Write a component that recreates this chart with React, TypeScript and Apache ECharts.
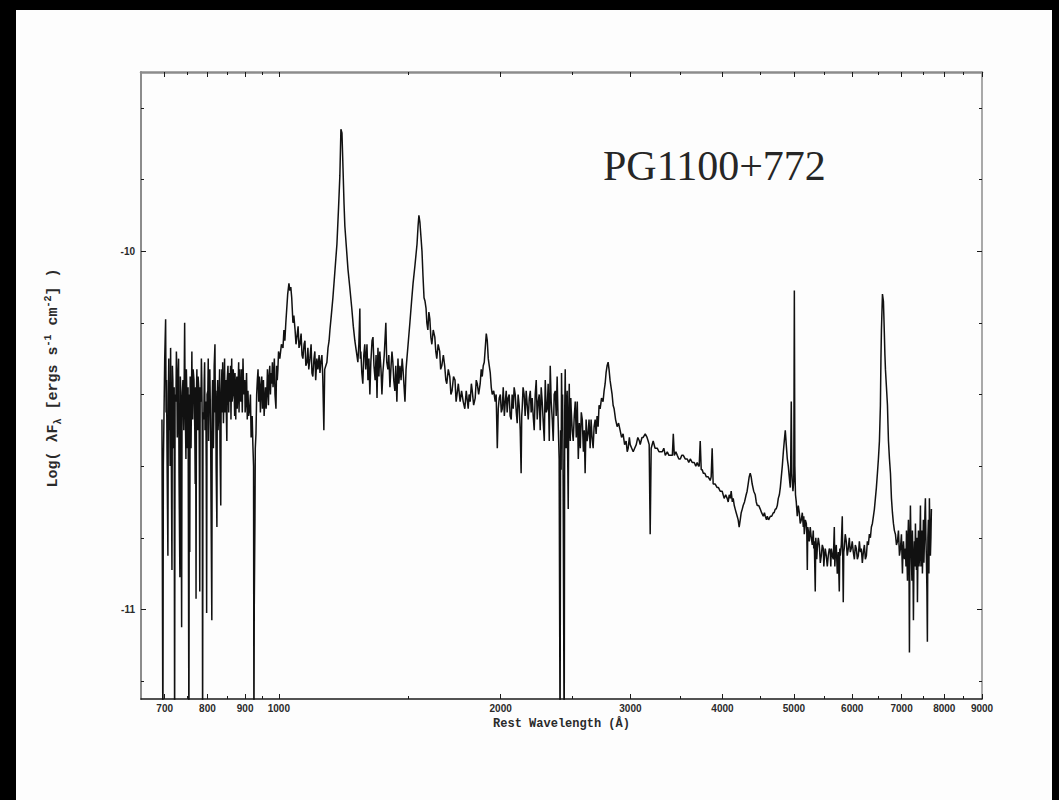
import React, { useEffect, useRef } from "react";
import * as echarts from "echarts";

// Spectrum of PG1100+772: [rest wavelength (Å), log(λFλ)]
const specFarUV: [number, number][] = [
  [694, -10.47], [696, -11.4], [697, -10.6], [698, -10.5], [700, -10.3], [702, -10.19], [703, -10.45],
  [704, -10.36], [705, -10.55], [707, -10.85], [708, -10.4], [709, -10.3], [710, -10.5], [711, -10.42],
  [712, -10.6], [713, -10.27], [714, -10.45], [716, -10.89], [717, -10.32], [718, -10.36], [719, -10.55],
  [720, -10.47], [721, -10.38], [722, -11.4], [723, -10.4], [725, -10.42], [726, -10.28], [727, -10.33],
  [728, -10.52], [729, -10.47], [730, -10.36], [731, -10.3], [732, -10.62], [734, -10.91], [735, -10.35],
  [736, -10.39], [737, -10.7], [738, -11.05], [739, -10.42], [741, -10.36], [743, -10.5], [745, -10.2],
  [746, -10.4], [748, -10.58], [749, -10.33], [750, -10.39], [751, -10.55], [752, -10.5], [753, -10.38],
  [755, -11.4], [756, -10.4], [757, -10.84], [758, -10.35], [759, -10.42], [760, -10.55], [762, -10.28],
  [763, -10.44], [764, -10.47], [765, -10.33], [767, -10.36], [769, -10.5], [770, -10.65], [771, -10.38],
  [772, -10.97], [773, -10.4], [774, -10.33], [775, -10.45], [776, -10.5], [777, -10.35], [779, -10.39],
  [780, -10.6], [781, -10.95], [782, -10.38], [784, -10.42], [785, -10.3], [786, -10.36], [787, -10.48],
  [788, -11.4], [789, -10.45], [791, -10.47], [792, -10.36], [793, -10.31], [794, -10.5], [796, -10.42],
  [797, -10.6], [798, -11.01], [799, -10.4], [801, -10.39], [802, -10.3], [803, -10.53], [804, -10.4],
  [806, -10.33], [808, -10.5], [809, -10.7], [811, -11.03], [812, -10.42], [813, -10.36], [815, -10.55],
  [816, -10.47], [817, -10.32], [819, -10.26], [820, -10.45], [821, -10.39], [822, -10.6], [824, -10.77],
  [825, -10.4], [826, -10.36], [827, -10.5], [829, -10.44], [831, -10.33], [832, -10.55], [834, -10.71],
  [835, -10.4], [837, -10.33], [838, -10.45], [839, -10.31], [841, -10.48], [842, -10.42], [844, -10.3],
  [845, -10.45], [847, -10.36], [848, -10.42], [850, -10.53], [851, -10.36], [853, -10.32], [855, -10.45],
  [856, -10.34], [858, -10.42], [860, -10.32], [861, -10.47], [863, -10.3], [864, -10.42], [866, -10.4],
  [867, -10.33], [869, -10.36], [871, -10.46], [872, -10.34], [874, -10.47], [875, -10.38], [877, -10.35],
  [878, -10.44], [880, -10.39], [882, -10.31], [883, -10.45], [885, -10.33], [886, -10.4], [888, -10.42],
  [890, -10.33], [892, -10.45], [894, -10.3], [896, -10.4], [899, -10.36], [900, -10.45], [902, -10.42],
  [904, -10.34], [906, -10.47], [908, -10.39], [910, -10.46], [913, -10.44], [915, -10.4], [917, -10.52],
  [919, -10.5], [920, -10.46], [922, -10.54], [924, -10.6], [925, -11.4], [926, -11.0], [928, -10.75],
  [929, -10.55], [931, -10.51], [933, -10.4], [935, -10.36], [937, -10.33], [939, -10.42], [941, -10.35],
  [942, -10.37], [944, -10.45], [946, -10.38], [948, -10.35], [950, -10.44], [951, -10.39], [953, -10.36],
  [955, -10.46], [957, -10.42], [959, -10.38], [961, -10.44], [963, -10.4], [965, -10.33], [966, -10.36],
  [968, -10.43], [970, -10.35], [972, -10.32], [974, -10.4], [976, -10.34], [978, -10.37], [980, -10.31],
  [982, -10.38], [984, -10.35], [986, -10.3], [988, -10.4], [991, -10.44], [993, -10.32], [995, -10.36],
  [997, -10.33], [999, -10.28],
];

const specLyaCiv: [number, number][] = [
  [1003, -10.3], [1008, -10.26], [1013, -10.27], [1016, -10.22], [1019, -10.25], [1022, -10.2],
  [1025, -10.16], [1028, -10.12], [1032, -10.09], [1035, -10.11], [1038, -10.1], [1041, -10.13],
  [1045, -10.2], [1048, -10.18], [1052, -10.22], [1055, -10.26], [1058, -10.24], [1062, -10.21],
  [1065, -10.27], [1068, -10.26], [1072, -10.23], [1075, -10.29], [1078, -10.3], [1082, -10.26],
  [1085, -10.25], [1088, -10.32], [1092, -10.31], [1095, -10.27], [1098, -10.33], [1102, -10.3],
  [1106, -10.26], [1109, -10.34], [1112, -10.35], [1116, -10.3], [1119, -10.28], [1122, -10.36],
  [1126, -10.3], [1130, -10.33], [1134, -10.29], [1137, -10.34], [1140, -10.31], [1144, -10.29],
  [1147, -10.35], [1151, -10.5], [1154, -10.33], [1158, -10.32], [1162, -10.31], [1166, -10.27],
  [1170, -10.25], [1173, -10.22], [1178, -10.18], [1184, -10.13], [1190, -10.07], [1195, -10.02],
  [1199, -9.98], [1205, -9.88], [1210, -9.79], [1214, -9.66], [1218, -9.67], [1222, -9.77], [1226, -9.87],
  [1229, -9.93], [1235, -9.99], [1241, -10.05], [1248, -10.1], [1256, -10.16], [1262, -10.21],
  [1268, -10.25], [1274, -10.28], [1280, -10.31], [1284, -10.26], [1288, -10.16], [1290, -10.3],
  [1292, -10.28], [1296, -10.34], [1300, -10.37], [1304, -10.29], [1308, -10.26], [1312, -10.33],
  [1317, -10.26], [1321, -10.36], [1325, -10.3], [1329, -10.4], [1333, -10.31], [1338, -10.25],
  [1342, -10.24], [1346, -10.32], [1351, -10.36], [1355, -10.29], [1359, -10.41], [1363, -10.27],
  [1367, -10.35], [1371, -10.28], [1376, -10.33], [1380, -10.4], [1384, -10.34], [1390, -10.29],
  [1397, -10.2], [1401, -10.31], [1406, -10.33], [1410, -10.29], [1415, -10.38], [1420, -10.32],
  [1424, -10.28], [1428, -10.31], [1432, -10.36], [1437, -10.39], [1441, -10.32], [1446, -10.42],
  [1451, -10.3], [1455, -10.37], [1460, -10.32], [1465, -10.36], [1470, -10.3], [1474, -10.33],
  [1479, -10.38], [1483, -10.42], [1488, -10.33], [1492, -10.3], [1499, -10.25], [1506, -10.2],
  [1514, -10.14], [1521, -10.09], [1530, -10.04], [1540, -9.98], [1545, -9.93], [1549, -9.9],
  [1554, -9.92], [1559, -9.96], [1564, -10.0], [1569, -10.07], [1574, -10.13], [1579, -10.14],
  [1584, -10.16], [1588, -10.2], [1593, -10.22], [1598, -10.17], [1603, -10.19], [1608, -10.24],
  [1613, -10.26], [1620, -10.22], [1628, -10.24], [1633, -10.28], [1638, -10.3], [1645, -10.26],
  [1653, -10.28], [1658, -10.33], [1664, -10.32], [1672, -10.29], [1679, -10.32], [1685, -10.36],
  [1690, -10.37], [1698, -10.33], [1706, -10.35], [1712, -10.4], [1718, -10.39], [1726, -10.35],
  [1734, -10.36], [1740, -10.42], [1745, -10.4], [1752, -10.37], [1762, -10.42], [1770, -10.39],
  [1779, -10.42], [1788, -10.44], [1796, -10.39], [1807, -10.44], [1812, -10.4], [1818, -10.42],
  [1825, -10.37], [1830, -10.39], [1838, -10.43], [1847, -10.41], [1853, -10.36], [1859, -10.37],
  [1867, -10.4], [1876, -10.37], [1882, -10.33], [1888, -10.35], [1894, -10.32], [1900, -10.31],
  [1906, -10.27], [1912, -10.23], [1918, -10.25], [1924, -10.3], [1930, -10.32], [1936, -10.34],
  [1942, -10.38], [1948, -10.4], [1957, -10.39], [1966, -10.42], [1972, -10.4], [1979, -10.55],
  [1985, -10.44], [1991, -10.41],
];

const specNearUV: [number, number][] = [
  [1998, -10.4], [2004, -10.45], [2010, -10.44], [2016, -10.38], [2023, -10.46], [2029, -10.42],
  [2035, -10.39], [2041, -10.45], [2047, -10.41], [2054, -10.4], [2060, -10.46], [2067, -10.47],
  [2073, -10.4], [2080, -10.44], [2086, -10.38], [2093, -10.4], [2100, -10.45], [2106, -10.48],
  [2112, -10.4], [2119, -10.43], [2126, -10.5], [2132, -10.62], [2136, -10.46], [2139, -10.44],
  [2145, -10.38], [2152, -10.4], [2159, -10.46], [2166, -10.39], [2173, -10.43], [2180, -10.47],
  [2187, -10.41], [2194, -10.39], [2200, -10.45], [2207, -10.41], [2214, -10.46], [2221, -10.5],
  [2228, -10.4], [2235, -10.36], [2242, -10.47], [2249, -10.42], [2256, -10.4], [2263, -10.5],
  [2270, -10.38], [2277, -10.42], [2285, -10.48], [2292, -10.53], [2299, -10.36], [2306, -10.45],
  [2313, -10.44], [2320, -10.37], [2328, -10.53], [2335, -10.32], [2342, -10.42], [2350, -10.47],
  [2357, -10.53], [2364, -10.4], [2372, -10.39], [2379, -10.46], [2386, -10.35], [2393, -10.47],
  [2401, -10.58], [2408, -11.4], [2412, -10.5], [2416, -10.61], [2419, -10.34], [2423, -10.47],
  [2427, -10.4], [2431, -10.64], [2439, -11.4], [2443, -10.45], [2447, -10.33], [2450, -10.46],
  [2454, -10.55], [2458, -10.42], [2462, -10.39], [2466, -10.58], [2470, -10.72], [2474, -10.45],
  [2478, -10.37], [2482, -10.5], [2486, -10.53], [2490, -10.41], [2493, -10.44], [2501, -10.5],
  [2509, -10.53], [2517, -10.46], [2525, -10.42], [2533, -10.52], [2541, -10.42], [2549, -10.58],
  [2557, -10.48], [2565, -10.55], [2573, -10.45], [2581, -10.47], [2590, -10.56], [2597, -10.5],
  [2604, -10.62], [2612, -10.47], [2620, -10.53], [2628, -10.51], [2636, -10.47], [2645, -10.55],
  [2653, -10.47], [2661, -10.52], [2670, -10.55], [2678, -10.49], [2687, -10.47], [2695, -10.51],
  [2703, -10.46], [2712, -10.49], [2720, -10.43], [2729, -10.44], [2741, -10.41], [2754, -10.42],
  [2763, -10.39], [2772, -10.37], [2780, -10.34], [2789, -10.32], [2798, -10.31], [2806, -10.33],
  [2815, -10.36], [2824, -10.38], [2833, -10.4], [2842, -10.43], [2851, -10.44], [2864, -10.47],
  [2878, -10.49], [2891, -10.48], [2905, -10.5], [2918, -10.52], [2932, -10.51], [2946, -10.54],
  [2960, -10.53], [2970, -10.56], [2979, -10.55], [2990, -10.52], [2998, -10.54], [3012, -10.55],
  [3026, -10.56], [3040, -10.55], [3055, -10.54], [3070, -10.52], [3085, -10.53], [3093, -10.54],
  [3110, -10.52], [3122, -10.52], [3142, -10.51], [3160, -10.52], [3171, -10.53], [3181, -10.54],
  [3191, -10.79], [3201, -10.55], [3221, -10.53], [3240, -10.55], [3262, -10.55], [3280, -10.56],
  [3293, -10.56], [3314, -10.56], [3330, -10.55], [3345, -10.57], [3366, -10.56], [3383, -10.57],
  [3398, -10.57], [3420, -10.57], [3430, -10.51], [3441, -10.57], [3458, -10.56], [3473, -10.57],
  [3490, -10.58], [3506, -10.58], [3522, -10.57], [3539, -10.57], [3560, -10.58], [3583, -10.58],
  [3600, -10.59], [3617, -10.58], [3640, -10.59], [3662, -10.59], [3680, -10.6], [3696, -10.59],
  [3710, -10.6], [3719, -10.6], [3731, -10.53], [3743, -10.61], [3755, -10.61], [3767, -10.62],
  [3785, -10.62], [3803, -10.63], [3825, -10.63], [3849, -10.64], [3861, -10.63], [3873, -10.55],
  [3885, -10.65], [3910, -10.65], [3934, -10.66], [3950, -10.66], [3971, -10.67], [3996, -10.67],
];

const specOptical: [number, number][] = [
  [4021, -10.69], [4040, -10.68], [4059, -10.69], [4072, -10.7], [4085, -10.68], [4100, -10.69],
  [4110, -10.67], [4125, -10.7], [4136, -10.69], [4150, -10.71], [4162, -10.72], [4175, -10.73],
  [4188, -10.74], [4201, -10.75], [4214, -10.77], [4228, -10.75], [4241, -10.73], [4255, -10.72],
  [4267, -10.71], [4285, -10.7], [4307, -10.68], [4320, -10.67], [4334, -10.65], [4348, -10.63],
  [4362, -10.62], [4375, -10.63], [4389, -10.65], [4410, -10.67], [4431, -10.68], [4445, -10.7],
  [4459, -10.71], [4480, -10.71], [4501, -10.72], [4520, -10.73], [4544, -10.74], [4560, -10.73],
  [4572, -10.74], [4590, -10.75], [4601, -10.74], [4620, -10.75], [4645, -10.74], [4665, -10.74],
  [4688, -10.73], [4700, -10.73], [4717, -10.72], [4730, -10.72], [4747, -10.71], [4762, -10.69],
  [4778, -10.68], [4792, -10.66], [4807, -10.63], [4822, -10.6], [4838, -10.56], [4852, -10.53],
  [4867, -10.5], [4875, -10.52], [4882, -10.54], [4898, -10.58], [4913, -10.6], [4928, -10.63],
  [4944, -10.66], [4950, -10.6], [4959, -10.42], [4968, -10.62], [4985, -10.67], [4998, -10.64],
  [5007, -10.11], [5015, -10.6], [5025, -10.68], [5037, -10.7], [5053, -10.74], [5069, -10.71],
  [5085, -10.73], [5100, -10.76], [5117, -10.75], [5133, -10.73], [5149, -10.77], [5157, -10.74],
  [5165, -10.79], [5182, -10.75], [5198, -10.76], [5206, -10.79], [5214, -10.89], [5222, -10.77],
  [5230, -10.78], [5246, -10.81], [5262, -10.77], [5279, -10.8], [5295, -10.82], [5312, -10.78],
  [5320, -10.83], [5329, -10.81], [5345, -10.95], [5354, -10.8], [5362, -10.82], [5370, -10.86],
  [5379, -10.83], [5396, -10.8], [5413, -10.82], [5430, -10.87], [5447, -10.85], [5464, -10.82],
  [5481, -10.83], [5490, -10.88], [5498, -10.86], [5515, -10.83], [5532, -10.85], [5550, -10.88],
  [5567, -10.85], [5585, -10.83], [5602, -10.84], [5611, -10.88], [5620, -10.83], [5638, -10.85],
  [5655, -10.86], [5673, -10.77], [5682, -10.88], [5691, -10.85], [5708, -10.82], [5726, -10.9],
  [5744, -10.84], [5762, -10.95], [5771, -10.83], [5780, -10.85], [5798, -10.82], [5816, -10.74],
  [5825, -10.86], [5834, -10.98], [5843, -10.84], [5852, -10.83], [5870, -10.79], [5889, -10.81],
  [5907, -10.85], [5926, -10.83], [5945, -10.8], [5963, -10.84], [5982, -10.83], [6000, -10.81],
  [6020, -10.84], [6040, -10.86], [6058, -10.82], [6077, -10.83], [6096, -10.86], [6115, -10.85],
  [6135, -10.81], [6154, -10.84], [6173, -10.83], [6192, -10.87], [6212, -10.84], [6232, -10.82],
  [6251, -10.86], [6271, -10.85], [6290, -10.81], [6310, -10.82], [6330, -10.79], [6350, -10.8],
  [6370, -10.77], [6390, -10.76], [6410, -10.74], [6430, -10.72], [6450, -10.69], [6470, -10.66],
  [6491, -10.62], [6511, -10.58], [6532, -10.53], [6552, -10.43], [6563, -10.3], [6573, -10.22],
  [6594, -10.12], [6614, -10.14], [6625, -10.19], [6635, -10.24], [6645, -10.29], [6656, -10.33],
  [6677, -10.38], [6698, -10.43], [6708, -10.48], [6719, -10.53], [6740, -10.58], [6761, -10.62],
  [6782, -10.69], [6803, -10.73], [6824, -10.76], [6845, -10.78], [6867, -10.79], [6889, -10.82],
  [6911, -10.81], [6932, -10.78], [6954, -10.85], [6975, -10.83], [6997, -10.79], [7019, -10.9],
  [7030, -10.84], [7041, -10.81], [7063, -10.86], [7085, -10.83], [7097, -10.88], [7108, -10.78],
  [7119, -10.86], [7130, -10.92], [7141, -10.8], [7152, -10.75], [7163, -10.84], [7174, -11.12],
  [7185, -10.82], [7196, -10.71], [7207, -10.8], [7219, -10.86], [7230, -10.92], [7241, -10.78],
  [7252, -10.85], [7264, -11.03], [7276, -10.87], [7287, -10.81], [7298, -10.88], [7310, -10.76],
  [7321, -10.84], [7333, -10.89], [7345, -10.8], [7356, -10.98], [7368, -10.84], [7379, -10.78],
  [7391, -10.88], [7402, -10.86], [7414, -10.79], [7425, -10.71], [7437, -10.88], [7448, -10.83],
  [7460, -10.78], [7471, -10.9], [7483, -10.82], [7494, -10.75], [7506, -10.87], [7518, -10.81],
  [7530, -10.73], [7541, -10.69], [7553, -10.8], [7565, -10.86], [7577, -10.95], [7588, -11.09],
  [7600, -10.8], [7612, -10.75], [7624, -10.9], [7636, -10.69], [7648, -10.78], [7660, -10.85],
  [7672, -10.8], [7684, -10.72],
];

const xMajorTicks = [700, 800, 900, 1000, 2000, 3000, 4000, 5000, 6000, 7000, 8000, 9000];
const xMinorTicks = [750, 850, 950, 1500, 2500, 3500, 4500, 5500, 6500, 7500, 8500];
const yMajorTicks = [-11, -10];
const yMinorTicks = [-11.2, -10.8, -10.6, -10.4, -10.2, -9.8, -9.6];

const TITLE = "PG1100+772";
const X_NAME = "Rest Wavelength (Å)";
const Y_NAME = "Log( λF{sub|λ} [ergs s{sup|-1} cm{sup|-2}] )";

const X_MIN = 650;
const X_MAX = 9000;
const Y_MIN = -11.25;
const Y_MAX = -9.5;

export default function App() {
  const ref = useRef<HTMLDivElement>(null);

  useEffect(() => {
    document.body.style.margin = "0";
    document.body.style.background = "#000";
    if (!ref.current) return;
    const chart = echarts.init(ref.current, null, { renderer: "svg" });
    const frame = "#8c8c8c";
    const ink = "#1a1a1a";
    const textColor = "#2a2a2a";
    const tickFont = {
      fontFamily: "Liberation Sans",
      fontWeight: "bold" as const,
      fontSize: 10,
      color: textColor,
    };
    const mono = "Liberation Mono";

    const xBase = (extra: any) => ({
      type: "log",
      logBase: 10,
      min: X_MIN,
      max: X_MAX,
      gridIndex: 0,
      splitLine: { show: false },
      minorTick: { show: false },
      ...extra,
    });
    const yBase = (extra: any) => ({
      type: "value",
      min: Y_MIN,
      max: Y_MAX,
      gridIndex: 0,
      scale: true,
      splitLine: { show: false },
      ...extra,
    });

    const option: any = {
      animation: false,
      backgroundColor: "#000",
      graphic: [
        {
          type: "rect",
          z: -100,
          silent: true,
          shape: { x: 16, y: 10, width: 1036, height: 790 },
          style: { fill: "#fdfdfd" },
        },
        {
          type: "text",
          x: 603,
          y: 166,
          z: 10,
          style: {
            text: TITLE,
            fontFamily: "Liberation Serif",
            fontSize: 42,
            fill: "#262626",
            verticalAlign: "middle",
            align: "left",
          },
        },
        {
          type: "text",
          x: 53,
          y: 378,
          rotation: Math.PI / 2,
          z: 10,
          style: {
            text: Y_NAME,
            fontFamily: mono,
            fontWeight: "bold",
            fontSize: 15,
            fill: textColor,
            align: "center",
            verticalAlign: "middle",
            lineHeight: 20,
            rich: {
              sub: { fontFamily: mono, fontWeight: "bold", fontSize: 10, fill: textColor, verticalAlign: "bottom", lineHeight: 20 },
              sup: { fontFamily: mono, fontWeight: "bold", fontSize: 10, fill: textColor, verticalAlign: "top", lineHeight: 20 },
            },
          },
        },
      ],
      grid: { left: 141, top: 72, width: 841, height: 627, containLabel: false },
      xAxis: [
        xBase({
          position: "bottom",
          name: X_NAME,
          nameLocation: "middle",
          nameGap: 16,
          nameTextStyle: { fontFamily: mono, fontWeight: "bold", fontSize: 12, color: textColor },
          axisLine: { show: true, onZero: false, lineStyle: { color: ink, width: 1.5 } },
          axisTick: { show: true, inside: true, length: 5, customValues: xMajorTicks, lineStyle: { color: ink, width: 1 } },
          axisLabel: { show: true, margin: 4, customValues: xMajorTicks, formatter: (v: number) => String(Math.round(v)), ...tickFont },
        }),
        xBase({
          position: "bottom",
          axisLine: { show: false, onZero: false },
          axisTick: { show: true, inside: true, length: 3, customValues: xMinorTicks, lineStyle: { color: ink, width: 1 } },
          axisLabel: { show: false },
        }),
        xBase({
          position: "top",
          axisLine: { show: true, onZero: false, lineStyle: { color: frame, width: 2.5 } },
          axisTick: { show: true, inside: true, length: 5, customValues: xMajorTicks, lineStyle: { color: ink, width: 1 } },
          axisLabel: { show: false },
        }),
        xBase({
          position: "top",
          axisLine: { show: false, onZero: false },
          axisTick: { show: true, inside: true, length: 3, customValues: xMinorTicks, lineStyle: { color: ink, width: 1 } },
          axisLabel: { show: false },
        }),
      ],
      yAxis: [
        yBase({
          position: "left",
          axisLine: { show: true, onZero: false, lineStyle: { color: frame, width: 2 } },
          axisTick: { show: true, inside: true, length: 5, customValues: yMajorTicks, lineStyle: { color: ink, width: 1 } },
          axisLabel: { show: true, margin: 6, customValues: yMajorTicks, formatter: (v: number) => String(Math.round(v)), ...tickFont },
        }),
        yBase({
          position: "left",
          axisLine: { show: false, onZero: false },
          axisTick: { show: true, inside: true, length: 3, customValues: yMinorTicks, lineStyle: { color: ink, width: 1 } },
          axisLabel: { show: false },
        }),
        yBase({
          position: "right",
          axisLine: { show: true, onZero: false, lineStyle: { color: frame, width: 1.5 } },
          axisTick: { show: true, inside: true, length: 5, customValues: yMajorTicks, lineStyle: { color: ink, width: 1 } },
          axisLabel: { show: false },
        }),
        yBase({
          position: "right",
          axisLine: { show: false, onZero: false },
          axisTick: { show: true, inside: true, length: 3, customValues: yMinorTicks, lineStyle: { color: ink, width: 1 } },
          axisLabel: { show: false },
        }),
      ],
      series: [
        {
          type: "line",
          xAxisIndex: 0,
          yAxisIndex: 0,
          data: [...specFarUV, ...specLyaCiv, ...specNearUV, ...specOptical],
          symbol: "none",
          clip: true,
          silent: true,
          lineStyle: { color: "#111", width: 1.5 },
          emphasis: { disabled: true },
        },
      ],
    };
    chart.setOption(option);
    return () => chart.dispose();
  }, []);

  return <div ref={ref} style={{ width: 1059, height: 800 }} />;
}
